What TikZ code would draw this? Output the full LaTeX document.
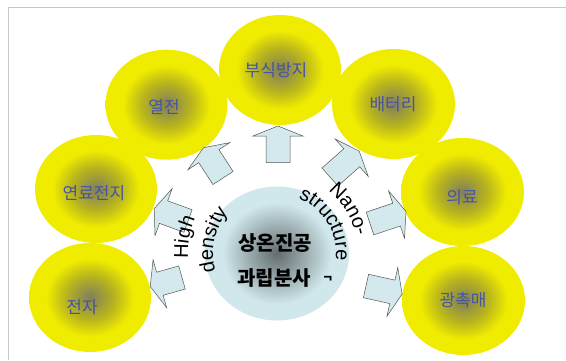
\documentclass[tikz,border=0pt]{standalone}
\usepackage{fontspec}
\setmainfont{Liberation Sans}
\newfontfamily\krfont{Noto Sans CJK KR}
\newfontfamily\enfont{Liberation Sans}
\usetikzlibrary{shapes.geometric,decorations.text}
\definecolor{ydark}{RGB}{128,126,92}
\definecolor{ymid}{RGB}{184,180,30}
\definecolor{yout}{RGB}{240,236,0}
\definecolor{bdark}{RGB}{98,108,110}
\definecolor{blight}{RGB}{208,231,235}
\definecolor{lblue}{RGB}{70,84,165}
\definecolor{afill}{RGB}{211,233,238}
\definecolor{aline}{RGB}{85,85,85}
\definecolor{framegray}{RGB}{200,200,200}
\pgfdeclareradialshading{yball}{\pgfpoint{0bp}{0bp}}{color(0bp)=(ydark); color(10bp)=(ymid); color(18bp)=(yout); color(50bp)=(yout)}
\pgfdeclareradialshading{bball}{\pgfpoint{0bp}{0bp}}{color(0bp)=(bdark); color(19bp)=(blight); color(50bp)=(blight)}
\newcommand\curvefont{\enfont\fontsize{20}{24}\selectfont}
\newcommand\blockarrow[3]{%
  \begin{scope}[shift={(#1)}, rotate=#2]
    \draw[arrowbox] (0,-12) -- ({#3-10},-12) -- ({#3-10},-25) -- (#3,0) -- ({#3-10},25) -- ({#3-10},12) -- (0,12) -- cycle;
  \end{scope}}
\tikzset{
  ycirc/.style={ellipse, inner sep=0pt, shading=yball},
  bcirc/.style={ellipse, inner sep=0pt, shading=bball},
  lbl/.style={font=\krfont\fontsize{17}{19}\selectfont, text=lblue, inner sep=0pt},
  ctr/.style={font=\krfont\bfseries\fontsize{20}{24}\selectfont, text=black, inner sep=0pt},
  arrowbox/.style={fill=afill, draw=aline, line width=0.5pt, line join=miter},
}
\begin{document}
\begin{tikzpicture}[x=1pt,y=1pt]
\useasboundingbox (0,0) rectangle (566,360);
\draw[framegray, line width=0.8pt] (8,0) -- (8,353) -- (566,353);
% outer circles
\node[ycirc, minimum width=122pt, minimum height=110pt] (c1) at (166.5,255.3) {};
\node[ycirc, minimum width=123pt, minimum height=110pt] (c3) at (393.5,256) {};
\node[ycirc, minimum width=122pt, minimum height=110pt] (c2) at (280,290) {};
\node[ycirc, minimum width=122pt, minimum height=108pt] (c0) at (96,171) {};
\node[ycirc, minimum width=122pt, minimum height=109pt] (cz) at (90,62.5) {};
\node[ycirc, minimum width=123pt, minimum height=108pt] (c4) at (462.5,168) {};
\node[ycirc, minimum width=123pt, minimum height=109pt] (c5) at (463.5,59.5) {};
% center circle
\node[bcirc, minimum width=144pt, minimum height=134pt] (ctr) at (277,106.5) {};
% arrows
\blockarrow{278,197.5}{90}{36.5}
\blockarrow{223,182}{122.9}{36}
\blockarrow{188,139}{160}{36}
\blockarrow{182,82.5}{195.8}{33}
\blockarrow{330,183}{41.5}{39}
\blockarrow{370,136.5}{18.5}{38}
\blockarrow{366,74}{-12.5}{37}
% labels
\node[lbl] (l2) at (276,290) {부식방지};
\node[lbl] (l1) at (164,253) {열전};
\node[lbl] (l3) at (393,256) {배터리};
\node[lbl] (l4) at (462,163) {의료};
\node[lbl] (l5) at (463,60) {광촉매};
\node[lbl] (l0) at (94,167) {연료전지};
\node[lbl] (lz) at (82,53) {전자};
\node[ctr] (t1) at (275,117) {상온진공};
\node[ctr] (t2) at (274,82) {과립분사};
\node[font=\krfont\bfseries\fontsize{14}{16}\selectfont, inner sep=0pt] (t3) at (328,81) {¬};
% curved texts
\path[decorate, decoration={text along path, text align=center, text={|\curvefont|High}}]
  (277,106.5) ++(230:89) arc[start angle=230, end angle=110, radius=89];
\path[decorate, decoration={text along path, text align=center, text={|\curvefont|density}}]
  (277,106.5) ++(218:64) arc[start angle=218, end angle=118, radius=64];
\path[decorate, decoration={text along path, text align=center, text={|\curvefont|structure}}]
  (277,106.5) ++(101:59) arc[start angle=101, end angle=-39, radius=59];
\path[decorate, decoration={text along path, text align=center, text={|\curvefont|Nano-}}]
  (277,106.5) ++(101:81) arc[start angle=101, end angle=-38, radius=81];
\end{tikzpicture}
\end{document}
